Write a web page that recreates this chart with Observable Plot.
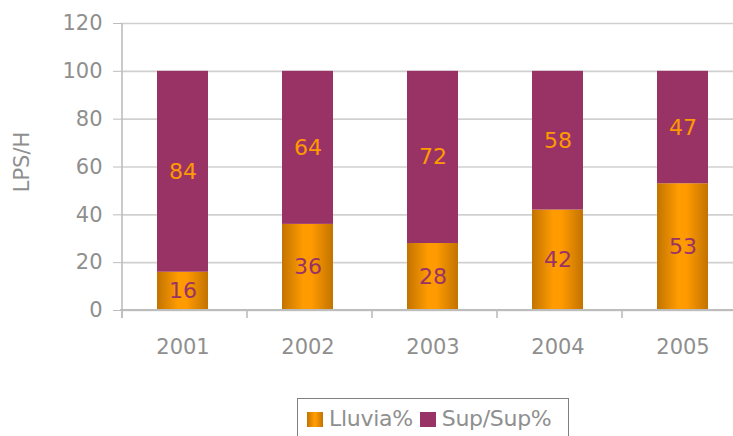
<!DOCTYPE html>
<html><head><meta charset="utf-8">
<script src="https://cdn.jsdelivr.net/npm/d3@7"></script>
<script src="https://cdn.jsdelivr.net/npm/@observablehq/plot@0.6"></script>
<style>
body{margin:0;background:#fff;font-family:"DejaVu Sans",sans-serif;}
#wrap{position:relative;width:733px;height:436px;overflow:hidden;background:#fff;}
#legend{position:absolute;left:297px;top:398px;width:272px;height:46px;border:1px solid #7f7f7f;box-sizing:border-box;padding:7px 0 0 9px;font-size:22px;color:#8f8f8f;white-space:nowrap;line-height:26px;letter-spacing:-0.3px;}
.sw{display:inline-block;width:16px;height:15px;margin-right:6px;vertical-align:-1px;}
.item{margin-right:7px;}
</style></head>
<body><div id="wrap"><div id="chart"></div><div id="legend"></div></div>
<script>
const years = ["2001", "2002", "2003", "2004", "2005"];
const lluvia = [16, 36, 28, 42, 53];
const sup = [84, 64, 72, 58, 47];
const yTicks = [0, 20, 40, 60, 80, 100, 120];
const seriesNames = ["Lluvia%", "Sup/Sup%"];
const yLabel = "LPS/H";

const rows = years.map((year, i) => ({year, lluvia: lluvia[i], sup: sup[i]}));
const gray = "#8f8f8f";
const purple = "#993366";
const orange = "#FF9900";

const chart = Plot.plot({
  width: 733, height: 392,
  marginLeft: 121, marginRight: 0, marginTop: 23, marginBottom: 82,
  style: {fontFamily: "'DejaVu Sans', sans-serif", fontSize: "21px", color: gray, background: "white"},
  x: {type: "band", domain: years, range: [120, 745], paddingInner: 0.59, paddingOuter: 0.295},
  y: {domain: [0, 120]},
  marks: [
    Plot.ruleY(yTicks, {stroke: "#d0d0d0", strokeWidth: 1.6}),
    Plot.barY(rows, {x: "year", y1: 0, y2: "lluvia", fill: "url(#gLluvia)"}),
    Plot.barY(rows, {x: "year", y1: "lluvia", y2: d => d.lluvia + d.sup, fill: purple}),
    Plot.axisY({ticks: yTicks, tickSize: 8, tickPadding: 11, stroke: "#bdbdbd", fill: gray, fontSize: 21, label: null}),
    Plot.axisX({tickSize: 0, tickPadding: 29, fontSize: 21, fill: gray, label: null}),
    Plot.text(rows, {x: "year", y: d => d.lluvia / 2, text: "lluvia", fill: purple, fontSize: 22}),
    Plot.text(rows, {x: "year", y: d => d.lluvia + d.sup / 2, text: "sup", fill: orange, fontSize: 22}),
    Plot.text([yLabel], {frameAnchor: "left", textAnchor: "middle", rotate: -90, dx: -99, dy: -5, fill: gray, fontSize: 21})
  ]
});

const svg = d3.select(chart);
const grad = svg.insert("defs", ":first-child").append("linearGradient")
  .attr("id", "gLluvia").attr("x1", 0).attr("x2", 1).attr("y1", 0).attr("y2", 0);
[[0, "#C27300"], [0.42, "#FF9C00"], [0.58, "#FF9A00"], [1, "#C27300"]].forEach(([o, c]) =>
  grad.append("stop").attr("offset", o).attr("stop-color", c));

// axis lines drawn from the library's scales
const xs = chart.scale("x"), ys = chart.scale("y");
const step = xs.step || xs.bandwidth / (1 - xs.paddingInner);
const y0 = ys.apply(0), yTop = ys.apply(yTicks[yTicks.length - 1]);
const centers = years.map(d => xs.apply(d) + xs.bandwidth / 2);
const bounds = centers.map(c => c - step / 2).concat([centers[centers.length - 1] + step / 2]);
const g = svg.append("g").attr("stroke", "#bdbdbd").attr("stroke-width", 1.6);
g.append("line").attr("x1", bounds[0]).attr("x2", 733).attr("y1", y0).attr("y2", y0).attr("stroke-width", 2.2);
g.append("line").attr("x1", bounds[0] + 2).attr("x2", bounds[0] + 2).attr("y1", yTop).attr("y2", y0 + 8);
bounds.forEach(b => g.append("line").attr("x1", b + 2).attr("x2", b + 2).attr("y1", y0).attr("y2", y0 + 8));

document.getElementById("chart").appendChild(chart);

const swatches = ["linear-gradient(to right,#C27300,#FF9C00 45%,#FF9A00 55%,#C27300)", purple];
document.getElementById("legend").innerHTML = seriesNames.map((n, i) =>
  `<span class="item"><span class="sw" style="background:${swatches[i]}"></span>${n}</span>`).join("");
</script>
</body></html>
